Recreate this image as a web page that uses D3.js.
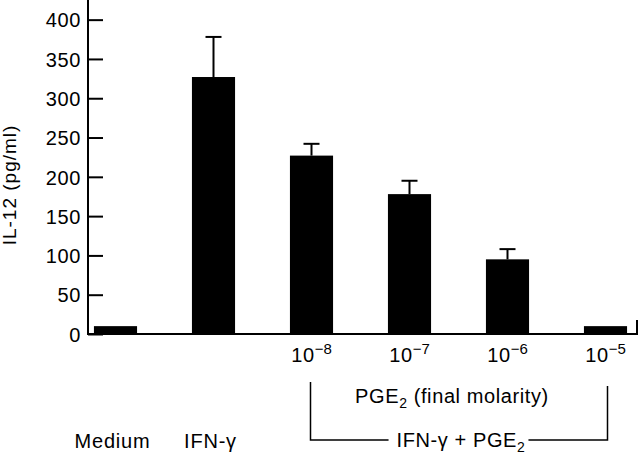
<!DOCTYPE html>
<html>
<head>
<meta charset="utf-8">
<script src="https://cdn.jsdelivr.net/npm/d3@7"></script>
<style>
  body { margin: 0; background: #fff; }
  svg { display: block; }
  text { fill: #000; font-family: "Liberation Sans", Arial, Helvetica, sans-serif; }
</style>
</head>
<body>
<svg id="chart" width="640" height="454"></svg>
<script>
// groups along the x axis
const categories = ["Medium", "IFN-γ", "1e-8", "1e-7", "1e-6", "1e-5"];
// IL-12 (pg/ml) mean and error (upper SE)
const values = [10, 327, 227, 178, 95, 10];
const errors = [0, 51, 15, 17, 13, 0];
const yTicks = [0, 50, 100, 150, 200, 250, 300, 350, 400];
// superscript exponents shown under the PGE2 bars
const exponents = { "1e-8": "−8", "1e-7": "−7", "1e-6": "−6", "1e-5": "−5" };
const groupLabels = ["Medium", "IFN-γ"];

const svg = d3.select("#chart");
const fs = 20;

const x = d3.scaleBand()
  .domain(categories)
  .range([66.5, 654.5])
  .paddingInner(0.56)
  .paddingOuter(0.28);

const y = d3.scaleLinear().domain([0, 425]).range([334, 0]);
const axisX0 = 88, axisX1 = 637;

// bars
svg.append("g").selectAll("rect")
  .data(categories)
  .enter().append("rect")
  .attr("x", d => x(d))
  .attr("y", (d, i) => y(values[i]))
  .attr("width", x.bandwidth())
  .attr("height", (d, i) => y(0) - y(values[i]))
  .attr("fill", "#000");

// error bars
const eb = svg.append("g").attr("stroke", "#000").attr("stroke-width", 2);
categories.forEach((c, i) => {
  if (!errors[i]) return;
  const cx = x(c) + x.bandwidth() / 2;
  eb.append("line").attr("x1", cx).attr("x2", cx)
    .attr("y1", y(values[i])).attr("y2", y(values[i] + errors[i]));
  eb.append("line").attr("x1", cx - 8).attr("x2", cx + 8)
    .attr("y1", y(values[i] + errors[i])).attr("y2", y(values[i] + errors[i]));
});

// y axis, ticks pointing inward
const yAxis = svg.append("g")
  .attr("transform", "translate(" + axisX0 + ",0)")
  .call(d3.axisRight(y).tickValues(yTicks).tickSize(15).tickFormat(""));
yAxis.select(".domain").remove();
yAxis.selectAll("line").attr("stroke", "#000").attr("stroke-width", 2);
yAxis.selectAll(".tick").append("text")
  .attr("x", -7).attr("dy", "0.36em")
  .attr("text-anchor", "end")
  .style("font-size", fs + "px")
  .style("letter-spacing", "0.6px")
  .text(d => d);

svg.append("line").attr("x1", axisX0).attr("x2", axisX0)
  .attr("y1", 0).attr("y2", y(0) + 1)
  .attr("stroke", "#000").attr("stroke-width", 2);
svg.append("path")
  .attr("d", "M" + axisX0 + "," + y(0) + "H" + axisX1 + "V" + (y(0) - 14))
  .attr("fill", "none").attr("stroke", "#000").attr("stroke-width", 2);

// y label
svg.append("text")
  .attr("transform", "translate(15.5," + 185 + ") rotate(-90)")
  .attr("text-anchor", "middle")
  .style("font-size", "19px")
  .style("letter-spacing", "1px")
  .text("IL-12 (pg/ml)");

// molarity labels
const mol = svg.append("g").selectAll("text")
  .data(categories.filter(c => exponents[c]))
  .enter().append("text")
  .attr("x", d => x(d) + x.bandwidth() / 2)
  .attr("y", 362)
  .attr("text-anchor", "middle")
  .style("font-size", fs + "px");
mol.append("tspan").style("letter-spacing", "0.6px").text("10");
mol.append("tspan").attr("dy", -8).style("font-size", "15px").text(d => exponents[d]);

// group labels
svg.append("g").selectAll("text")
  .data(groupLabels)
  .enter().append("text")
  .attr("x", d => x(d) + x.bandwidth() / 2 - 3)
  .attr("y", 448)
  .attr("text-anchor", "middle")
  .style("font-size", fs + "px")
  .style("letter-spacing", "0.8px")
  .text(d => d);

// PGE2 (final molarity)
const pge = svg.append("text")
  .attr("x", 452).attr("y", 403)
  .attr("text-anchor", "middle")
  .style("font-size", fs + "px")
  .style("letter-spacing", "0.6px");
pge.append("tspan").text("PGE");
pge.append("tspan").attr("dy", 5).style("font-size", "14px").text("2");
pge.append("tspan").attr("dy", -5).text(" (final molarity)");

// bracket IFN-γ + PGE2
const bx0 = x("1e-8") + x.bandwidth() / 2 - 1;
const bx1 = x("1e-5") + x.bandwidth() / 2 + 2;
const by = 440;
const bt = svg.append("text")
  .attr("x", (bx0 + bx1) / 2 + 2).attr("y", 447)
  .attr("text-anchor", "middle")
  .style("font-size", fs + "px")
  .style("letter-spacing", "0.6px");
bt.append("tspan").text("IFN-γ + PGE");
bt.append("tspan").attr("dy", 5).style("font-size", "14px").text("2");
const bb = bt.node().getBBox();
const br = svg.append("g").attr("fill", "none").attr("stroke", "#000").attr("stroke-width", 1.5);
br.append("path").attr("d", "M" + bx0 + ",382V" + by + "H" + (bb.x - 8));
br.append("path").attr("d", "M" + (bb.x + bb.width + 3) + "," + by + "H" + bx1 + "V386");
</script>
</body>
</html>
